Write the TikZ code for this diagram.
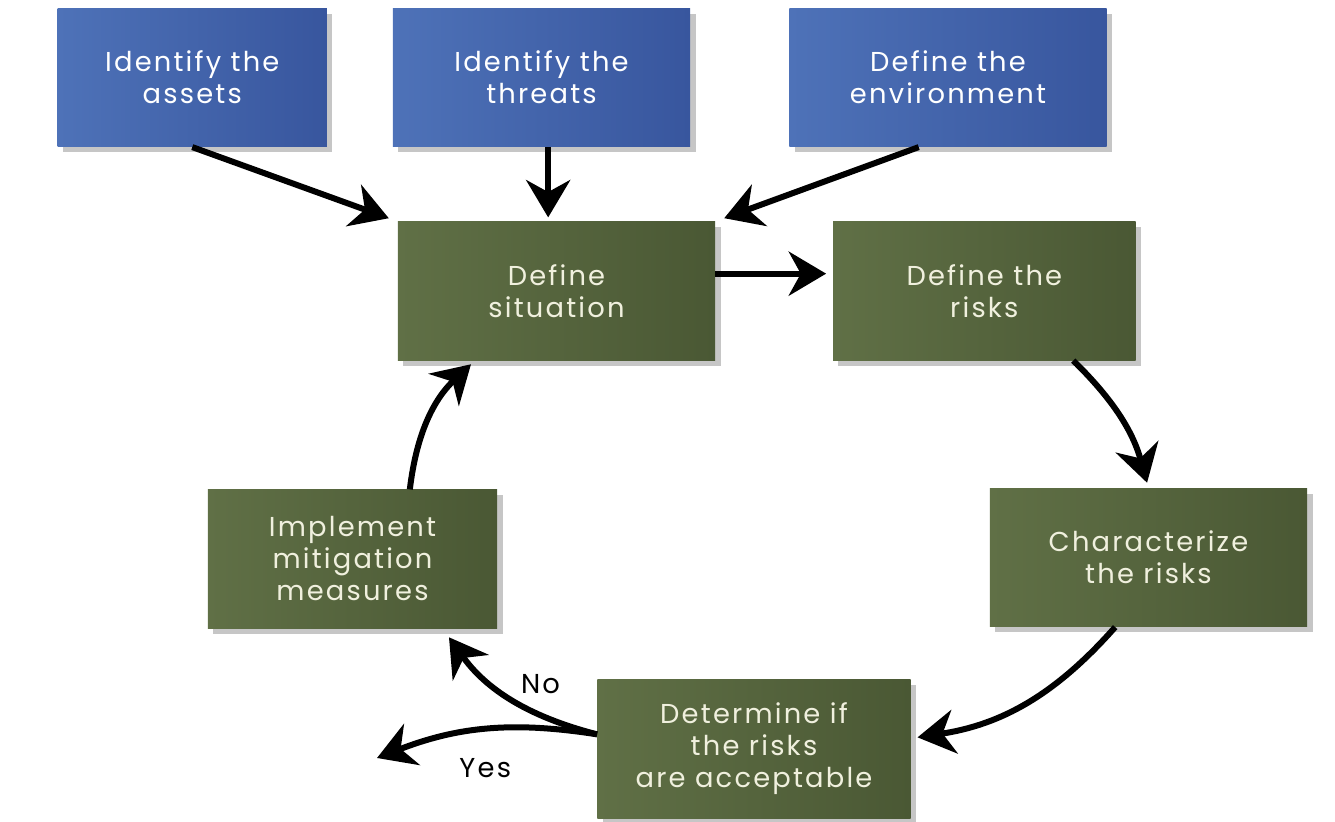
\documentclass[tikz,border=0pt]{standalone}
\usepackage{fontspec}
\setmainfont{Poppins}[LetterSpace=8]
\usetikzlibrary{arrows.meta,positioning,shadows}
\definecolor{blaalys}{RGB}{78,114,184}
\definecolor{blaamork}{RGB}{56,86,158}
\definecolor{gronnlys}{RGB}{96,112,70}
\definecolor{gronnmork}{RGB}{74,88,52}
\definecolor{kremhvit}{RGB}{240,240,222}
\tikzset{
    %Define standard arrow tip
    >={Stealth[length=28pt,width=33pt,inset=9pt]},
    %Define style for input boxes
    kilde/.style={
           rectangle,
           left color=blaalys,
           right color=blaamork,
           text=white,
           minimum height=104pt,
           align=center,
           drop shadow={shadow xshift=4pt,shadow yshift=-4pt,opacity=0.45},
           font=\fontsize{20.5}{24}\selectfont},
    %Define style for process boxes
    trinn/.style={
           kilde,
           left color=gronnlys,
           right color=gronnmork,
           text=kremhvit},
    % Define arrow style
    pil/.style={
           ->,
           line width=4.5pt},
    % Define style for yes/no labels
    svar/.style={
           text=black,
           font=\fontsize{20.5}{24}\selectfont}
}
\begin{document}
\begin{tikzpicture}[x=0.75pt,y=-0.75pt]
  \useasboundingbox (0,0) rectangle (1335,821);
  % input boxes
  \node[kilde,minimum width=223pt] (trusler) at (541.5,77.5) {Identify the\\threats};
  \node[kilde,minimum width=202pt,left=49pt of trusler] (verdier) {Identify the\\assets};
  \node[kilde,minimum width=238pt,right=74pt of trusler] (miljo) {Define the\\environment};
  % the loop
  \node[trinn,minimum width=238pt] (situasjon) at (556.5,291) {Define\\situation};
  \node[trinn,minimum width=227pt,right=88pt of situasjon] (risiko) {Define the\\risks};
  \node[trinn,minimum width=238pt] (karakter) at (1148.5,557.5) {Characterize\\the risks};
  \node[trinn,minimum width=235pt] (akseptabel) at (754,749) {Determine if\\the risks\\are acceptable};
  \node[trinn,minimum width=217pt] (tiltak) at (352.5,559) {Implement\\mitigation\\measures};
  \coordinate (ut) at (377,758);

  \draw[pil,shorten >=7pt] (verdier.south) -- (situasjon.north west);
  \draw[pil,shorten >=3pt] ([xshift=5pt]trusler.south) -- ([xshift=5pt]trusler.south |- situasjon.north);
  \draw[pil,shorten >=7pt] ([xshift=-22pt]miljo.south) -- (situasjon.north east);
  \draw[pil,shorten >=5pt] ([yshift=13pt]situasjon.east) -- ([yshift=13pt]situasjon.east -| risiko.west);
  \draw[pil,shorten >=4pt] ([xshift=-47pt]risiko.south east) to[bend left=15] (karakter.north);
  \draw[pil,shorten >=5pt] ([xshift=-25pt]karakter.south) to[bend left=20] ([yshift=8pt]akseptabel.east);
  \draw[pil,shorten >=8pt] ([yshift=11pt]akseptabel.west) to[bend left=20]
    node[svar,pos=0.3,above=10pt] {No} ([xshift=-41pt]tiltak.south east);
  \draw[pil] ([yshift=11pt]akseptabel.west) to[bend right=15]
    node[svar,pos=0.5,below=16pt] {Yes} (ut);
  \draw[pil,shorten >=4pt] ([xshift=43pt]tiltak.north) to[bend left=20] ([xshift=58pt]situasjon.south west);
\end{tikzpicture}
\end{document}
